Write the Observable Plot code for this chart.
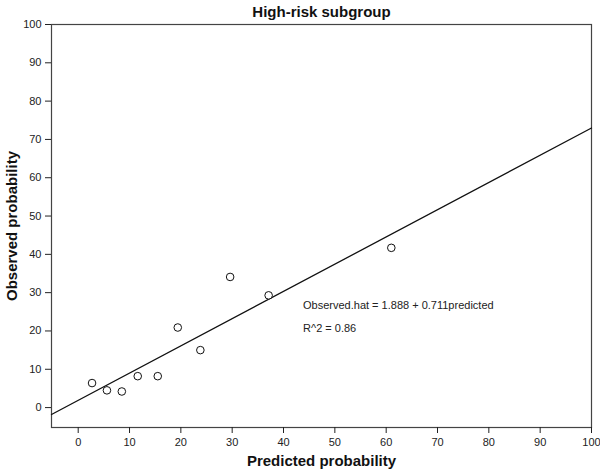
<!DOCTYPE html>
<html>
<head>
<meta charset="utf-8">
<script src="https://cdn.jsdelivr.net/npm/d3@7"></script>
<script src="https://cdn.jsdelivr.net/npm/@observablehq/plot@0.6"></script>
<style>
  html, body { margin: 0; padding: 0; background: #fff; }
  #chart svg { font-family: "Liberation Sans", Arial, sans-serif; }
</style>
</head>
<body>
<div id="chart"></div>
<script>
const title = "High-risk subgroup";
const xLabel = "Predicted probability";
const yLabel = "Observed probability";
const predicted = [2.7, 5.6, 8.5, 11.6, 15.5, 19.4, 23.8, 29.6, 37.1, 61.0];
const observed  = [6.4, 4.5, 4.2, 8.2, 8.2, 20.9, 15.0, 34.1, 29.3, 41.7];
const intercept = 1.888;
const slope = 0.711;
const lineX = [-5.2, 100];
const ticks = [0, 10, 20, 30, 40, 50, 60, 70, 80, 90, 100];
const annotations = ["Observed.hat = 1.888 + 0.711predicted", "R^2 = 0.86"];
const annotX = [43.8, 43.8];
const annotY = [26.6, 20.6];

const points = predicted.map((p, i) => ({x: p, y: observed[i]}));
const fitLine = lineX.map(x => ({x, y: intercept + slope * x}));
const notes = annotations.map((t, i) => ({text: t, x: annotX[i], y: annotY[i]}));

const chart = Plot.plot({
  width: 600,
  height: 470,
  marginLeft: 51,
  marginRight: 9,
  marginTop: 24,
  marginBottom: 43,
  style: {fontFamily: '"Liberation Sans", Arial, sans-serif', fontSize: "11px", color: "#222", background: "#fff"},
  x: {domain: [-5.2, 100], ticks: ticks, tickSize: 6, tickPadding: 5, label: null},
  y: {domain: [-5.2, 100], ticks: ticks, tickSize: 6, tickPadding: 4, label: null},
  marks: [
    Plot.frame({stroke: "#444", strokeWidth: 1.2}),
    Plot.axisX({ticks: ticks, tickSize: 6, tickPadding: 5, label: null, fontSize: 11}),
    Plot.axisY({ticks: ticks, tickSize: 6, tickPadding: 4, label: null, fontSize: 11}),
    Plot.line(fitLine, {x: "x", y: "y", stroke: "#111", strokeWidth: 1.3}),
    Plot.dot(points, {x: "x", y: "y", r: 3.8, stroke: "#111", strokeWidth: 1, fill: "#fff"}),
    Plot.text(notes, {x: "x", y: "y", text: "text", textAnchor: "start", fontSize: 11, fill: "#222"}),
    Plot.text([title], {frameAnchor: "top", lineAnchor: "middle", dy: -12, fontSize: 15, fontWeight: "bold", fill: "#111"}),
    Plot.text([xLabel], {frameAnchor: "bottom", lineAnchor: "middle", dy: 34, fontSize: 15, fontWeight: "bold", fill: "#111"}),
    Plot.text([yLabel], {frameAnchor: "left", textAnchor: "middle", lineAnchor: "middle", dx: -39, rotate: -90, fontSize: 15, fontWeight: "bold", fill: "#111"})
  ]
});
document.getElementById("chart").appendChild(chart);
</script>
</body>
</html>
